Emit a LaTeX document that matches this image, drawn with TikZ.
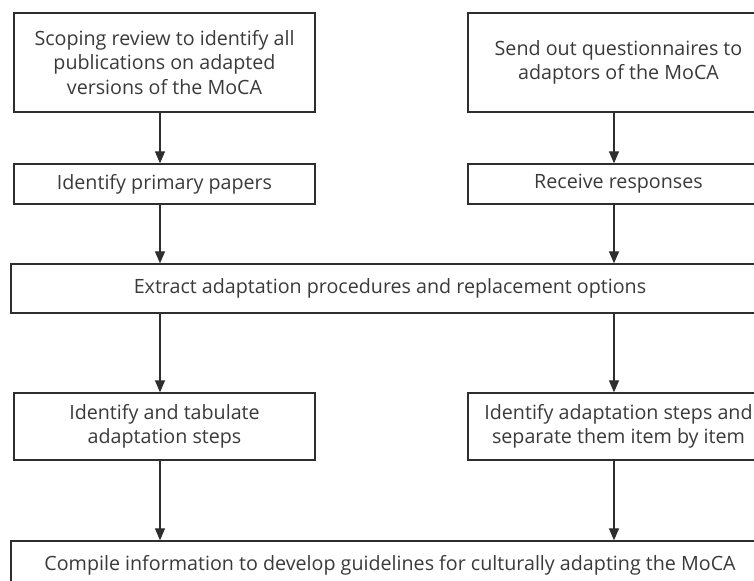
\documentclass[tikz,border=0pt]{standalone}
\usepackage{fontspec}
\setmainfont{Open Sans}
\usepackage{tikz}
\usetikzlibrary{arrows.meta}

\definecolor{linegray}{HTML}{2E2E2E}
\definecolor{textgray}{HTML}{3A3A3A}

\begin{document}
\begin{tikzpicture}[
    box/.style={draw=linegray, line width=1.1pt, text=textgray, align=center,
        inner sep=0pt, font=\fontsize{16.8}{21}\selectfont},
    flow/.style={draw=linegray, line width=1.1pt,
        -{Triangle[width=0.3cm,length=0.36cm]}}
]
    % Page frame (diagram is cut at the right and bottom edges)
    \clip (0, 0) rectangle (22.62, 17.43);

    % Column lines for the arrows
    \coordinate (lcol) at (4.8, 0);
    \coordinate (rcol) at (18.42, 0);

    % Top row
    \node[box, minimum width=9.03cm, minimum height=2.97cm] (scope) at (4.935, 15.555)
        {Scoping review to identify all\\publications on adapted\\versions of the MoCA};
    \node[box, minimum width=9.03cm, minimum height=2.97cm] (quest) at (18.555, 15.555)
        {Send out questionnaires to\\adaptors of the MoCA};

    % Second row
    \node[box, minimum width=9.03cm, minimum height=1.2cm] (primary) at (4.935, 11.91)
        {Identify primary papers};
    \node[box, minimum width=9.03cm, minimum height=1.2cm] (responses) at (18.555, 11.91)
        {Receive responses};

    % Wide middle box
    \node[box, minimum width=22.74cm, minimum height=1.47cm] (extract) at (11.7, 8.775)
        {Extract adaptation procedures and replacement options};

    % Third row
    \node[box, minimum width=9.03cm, minimum height=2.01cm] (tabulate) at (4.935, 4.635)
        {Identify and tabulate\\adaptation steps};
    \node[box, minimum width=9.03cm, minimum height=2.01cm] (separate) at (18.555, 4.635)
        {Identify adaptation steps and\\separate them item by item};

    % Bottom box
    \node[box, minimum width=22.74cm, minimum height=1.44cm] (compile) at (11.7, 0.48)
        {Compile information to develop guidelines for culturally adapting the MoCA};

    % Arrows
    \draw[flow] (scope.south -| lcol) -- (primary.north -| lcol);
    \draw[flow] (quest.south -| rcol) -- (responses.north -| rcol);
    \draw[flow] (primary.south -| lcol) -- (extract.north -| lcol);
    \draw[flow] (responses.south -| rcol) -- (extract.north -| rcol);
    \draw[flow] (extract.south -| lcol) -- (tabulate.north -| lcol);
    \draw[flow] (extract.south -| rcol) -- (separate.north -| rcol);
    \draw[flow] (tabulate.south -| lcol) -- (compile.north -| lcol);
    \draw[flow] (separate.south -| rcol) -- (compile.north -| rcol);
\end{tikzpicture}
\end{document}
